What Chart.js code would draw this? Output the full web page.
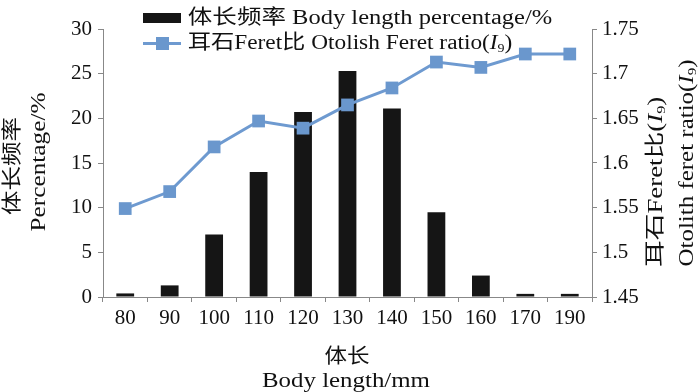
<!DOCTYPE html>
<html>
<head>
<meta charset="utf-8">
<script src="https://cdn.jsdelivr.net/npm/chart.js@4/dist/chart.umd.min.js"></script>
<style>
  html, body { margin: 0; padding: 0; background: #fff; }
  #wrap { position: relative; width: 700px; height: 392px; overflow: hidden; }
  .lbl {
    position: absolute; white-space: nowrap; line-height: 1;
    font-family: "Liberation Serif", "Noto Sans CJK SC", serif;
    font-size: 20px; color: #111;
  }
  .lbl sub { font-size: 0.6em; vertical-align: -0.25em; }
  .box { position: absolute; }
</style>
</head>
<body>
<div id="wrap">
  <canvas id="myChart" width="700" height="392"></canvas>
</div>
<script>
// data
const categories = ['80', '90', '100', '110', '120', '130', '140', '150', '160', '170', '190'];
const percentage = [0.4, 1.3, 7.0, 14.0, 20.7, 25.3, 21.1, 9.5, 2.4, 0.35, 0.35];
const feretRatio = [1.549, 1.568, 1.618, 1.647, 1.639, 1.665, 1.684, 1.713, 1.707, 1.722, 1.722];

const barName = '体长频率 Body length percentage/%';
const lineName = '耳石Feret比 Otolish Feret ratio(<i>I</i><sub>9</sub>)';

const lineColor = '#6e9ad0';
const tickFont = { family: "'Liberation Serif', serif", size: 21 };

// text labels: centre x, centre y, length along text, rotation
const labels = [
  { html: barName, cx: 370, cy: 17, len: 364, rot: 0 },
  { html: lineName, cx: 350, cy: 43, len: 325, rot: 0 },
  { html: '体长', cx: 347, cy: 356, len: 45, rot: 0 },
  { html: 'Body length/mm', cx: 346, cy: 380, len: 168, rot: 0 },
  { html: '体长频率', cx: 12, cy: 166, len: 98, rot: -90 },
  { html: 'Percentage/%', cx: 38, cy: 162, len: 139, rot: -90 },
  { html: '耳石Feret比(<i>I</i><sub>9</sub>)', cx: 656, cy: 182, len: 170, rot: -90 },
  { html: 'Otolith feret ratio(<i>I</i><sub>9</sub>)', cx: 687, cy: 163, len: 207, rot: -90 }
];

var ctx = document.getElementById('myChart').getContext('2d');
const myChart = new Chart(ctx, {
  data: {
    labels: categories,
    datasets: [{
      type: 'line',
      label: 'ratio',
      data: feretRatio,
      yAxisID: 'y1',
      borderColor: lineColor,
      backgroundColor: '#6a97cd',
      borderWidth: 3,
      pointStyle: 'rect',
      pointRadius: 9,
      pointBorderWidth: 0,
      tension: 0
    }, {
      type: 'bar',
      label: 'percentage',
      data: percentage,
      yAxisID: 'y',
      backgroundColor: '#151515',
      borderColor: '#000',
      borderWidth: 0,
      barPercentage: 0.4,
      categoryPercentage: 1
    }]
  },
  options: {
    responsive: false,
    animation: false,
    layout: { padding: { top: 29, left: 0, right: 0, bottom: 0 } },
    plugins: { legend: { display: false }, tooltip: { enabled: false } },
    scales: {
      x: {
        grid: { drawOnChartArea: false, drawTicks: true, tickLength: 5, color: '#888', offset: true },
        border: { color: '#888', width: 1 },
        ticks: { font: tickFont, color: '#111', padding: 4, maxRotation: 0, autoSkip: false },
        afterFit(scale) { scale.height = 95; }
      },
      y: {
        position: 'left',
        min: 0, max: 30,
        ticks: { stepSize: 5, font: tickFont, color: '#111', padding: 6 },
        grid: { drawOnChartArea: false, tickLength: 5, color: '#888' },
        border: { color: '#888', width: 1 },
        afterFit(scale) { scale.width = 103; }
      },
      y1: {
        position: 'right',
        min: 1.45, max: 1.75,
        ticks: {
          stepSize: 0.05, font: tickFont, color: '#111', padding: 5,
          callback: function (v) { return String(Number(v.toFixed(2))); }
        },
        grid: { drawOnChartArea: false, tickLength: 5, color: '#888' },
        border: { color: '#888', width: 1 },
        afterFit(scale) { scale.width = 108; }
      }
    }
  }
});

// legend keys
const wrap = document.getElementById('wrap');
function addBox(x, y, w, h, color) {
  const d = document.createElement('div');
  d.className = 'box';
  d.style.left = x + 'px'; d.style.top = y + 'px';
  d.style.width = w + 'px'; d.style.height = h + 'px';
  d.style.background = color;
  wrap.appendChild(d);
}
addBox(143, 13, 38, 10, '#151515');
addBox(143, 41.5, 38, 3, lineColor);
addBox(155.5, 36.5, 13, 13, '#6a97cd');

// text, stretched to the widths seen in the picture
labels.forEach(function (l) {
  const el = document.createElement('div');
  el.className = 'lbl';
  el.innerHTML = l.html;
  wrap.appendChild(el);
  const s = l.len / el.offsetWidth;
  el.style.left = l.cx + 'px';
  el.style.top = l.cy + 'px';
  el.style.transform = 'translate(-50%, -50%) rotate(' + l.rot + 'deg) scaleX(' + s.toFixed(3) + ')';
});
</script>
</body>
</html>
